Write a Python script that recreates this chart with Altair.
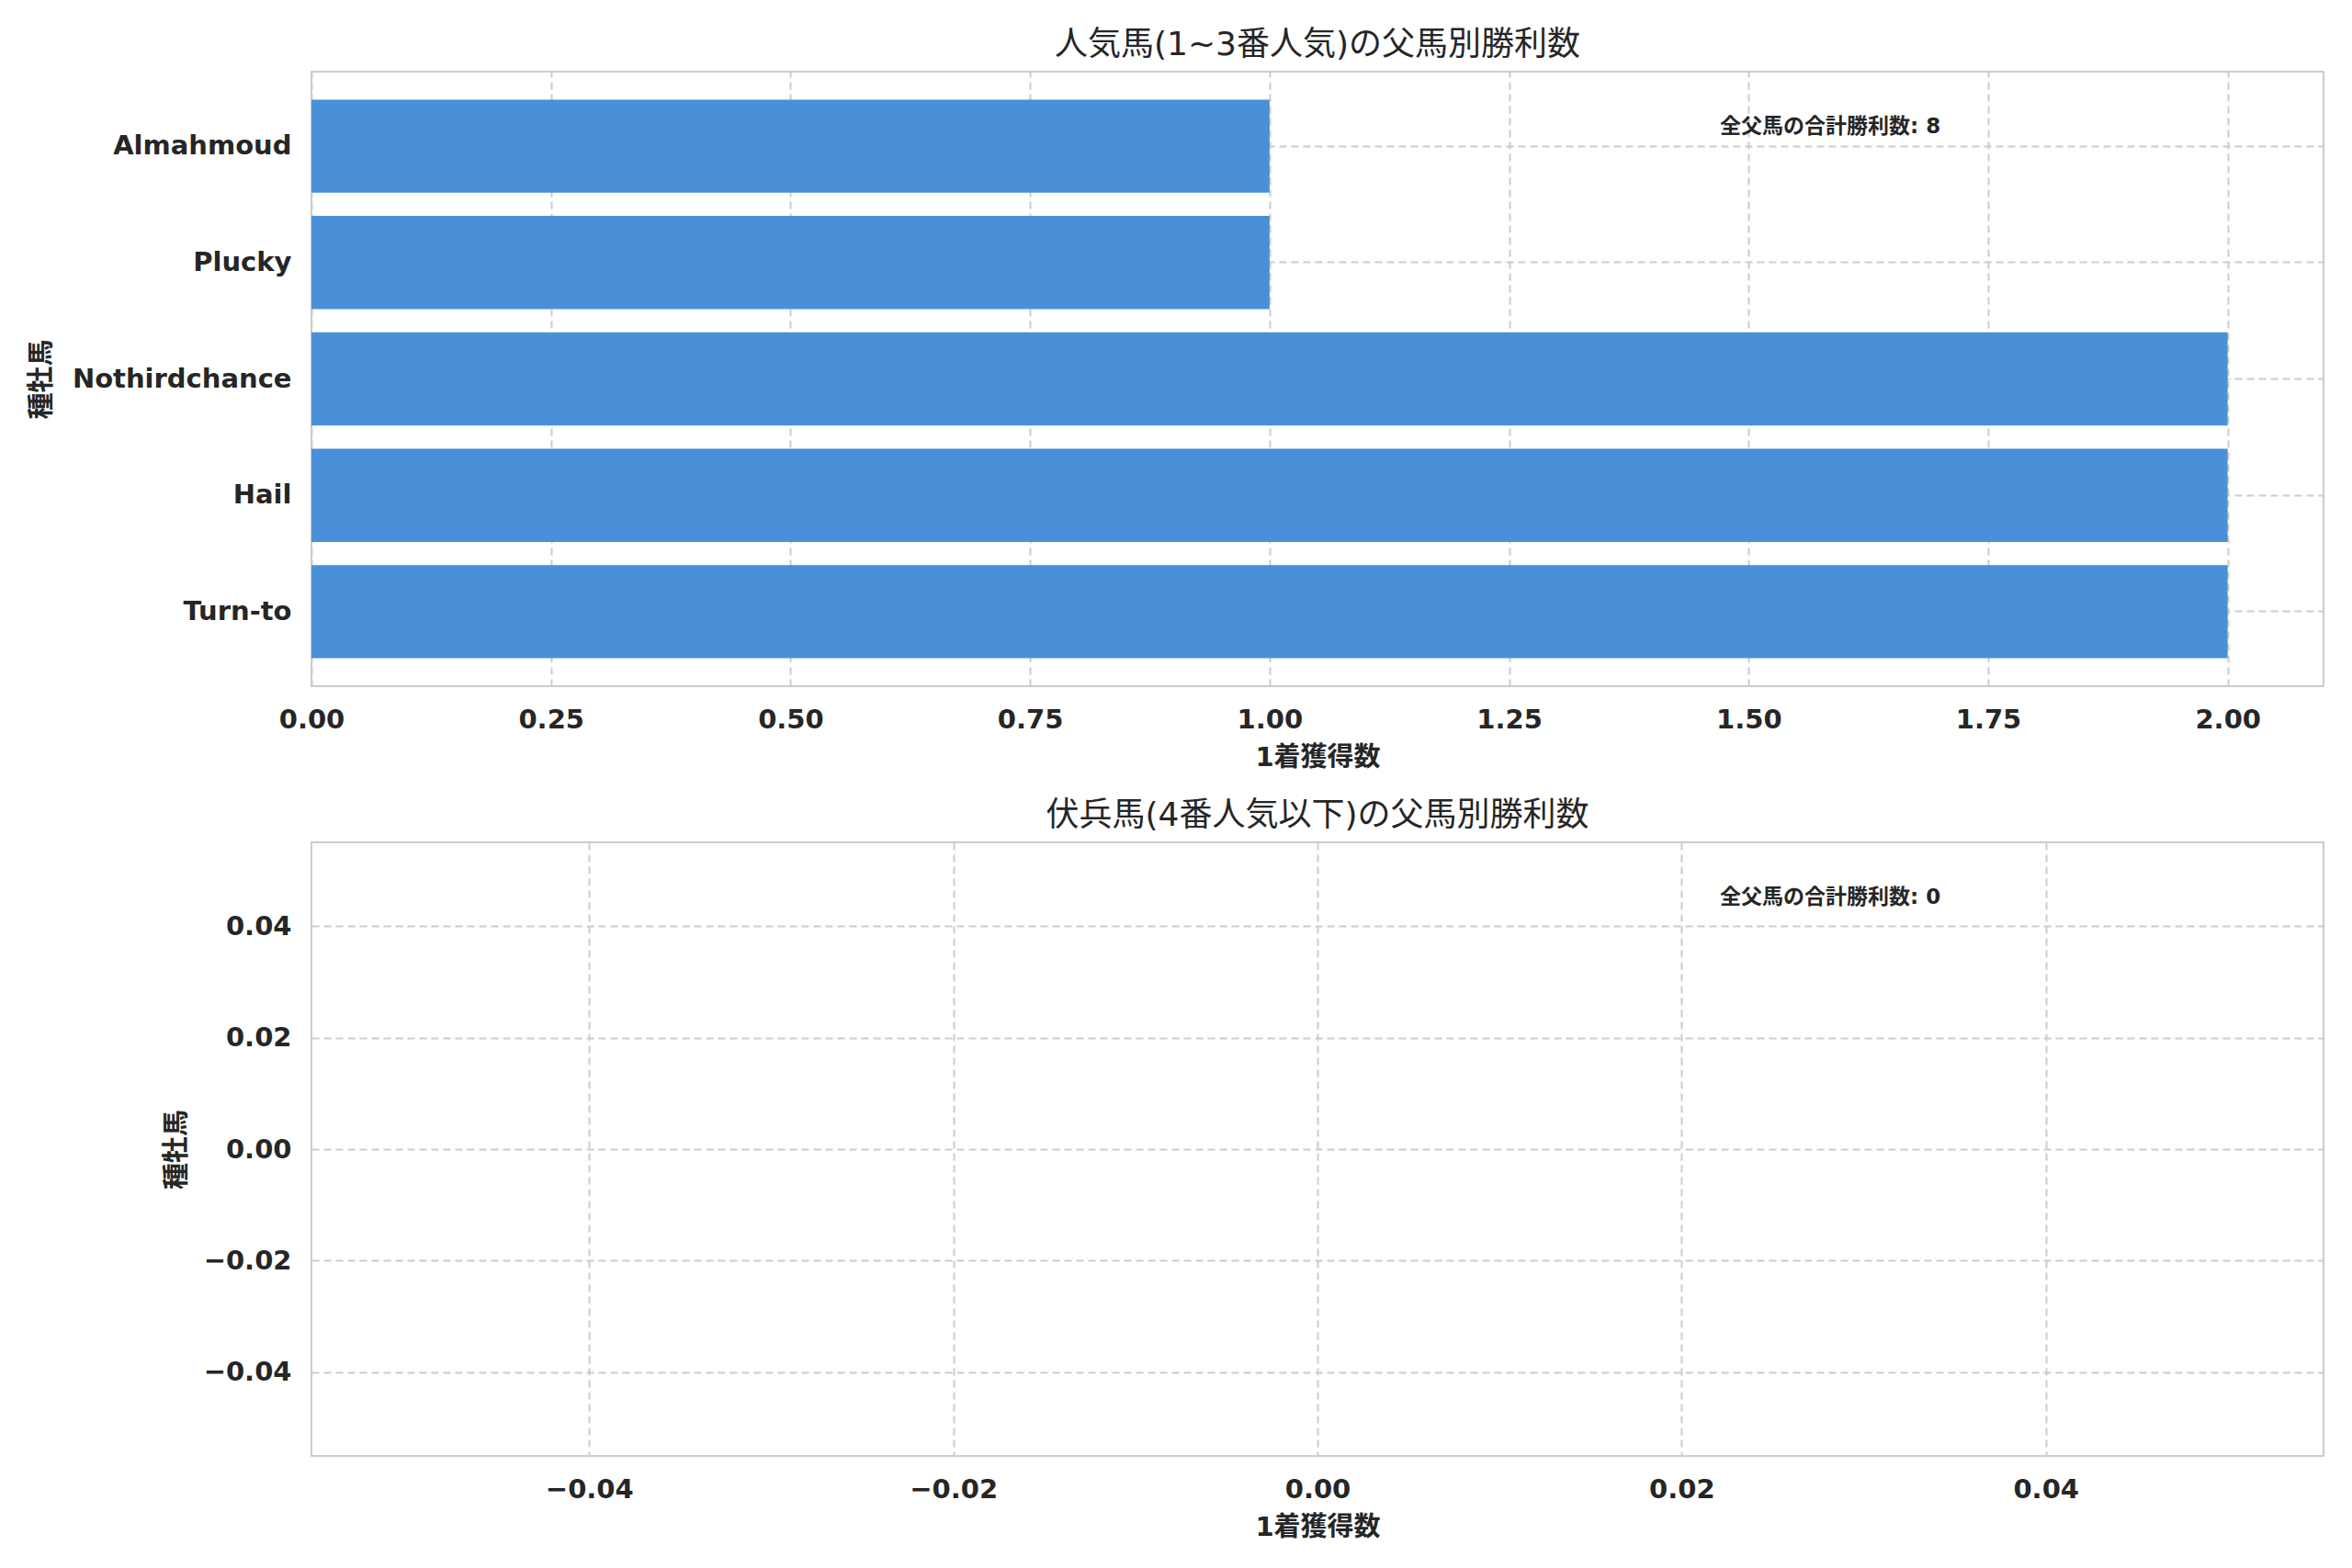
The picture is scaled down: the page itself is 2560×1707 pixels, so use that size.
import altair as alt
import pandas as pd

# ---- data ----
horses = ["Almahmoud", "Plucky", "Nothirdchance", "Hail", "Turn-to"]
wins_top = [1, 1, 2, 2, 2]
horses_bottom = []
wins_bottom = []

title_top = "人気馬(1~3番人気)の父馬別勝利数"
title_bottom = "伏兵馬(4番人気以下)の父馬別勝利数"
x_title = "1着獲得数"
y_title = "種牡馬"
note_label = "全父馬の合計勝利数"

x_ticks_top = [0.0, 0.25, 0.5, 0.75, 1.0, 1.25, 1.5, 1.75, 2.0]
ticks_bottom = [-0.04, -0.02, 0.0, 0.02, 0.04]

FONT = "'DejaVu Sans', 'Noto Sans CJK JP', sans-serif"
LFONT = "DejaVu Sans"
BAR = "#4a90d9"
TXT = "#262626"
W, H_TOP, H_BOT = 2190, 669, 668

top_df = pd.DataFrame({"horse": horses, "wins": wins_top})
top_note = pd.DataFrame({"t": [f"{note_label}: {sum(wins_top)}"]})
bot_df = pd.DataFrame({"wins": pd.Series(wins_bottom, dtype=float),
                       "pos": pd.Series([0.0] * len(horses_bottom), dtype=float)})
bot_note = pd.DataFrame({"t": [f"{note_label}: {int(sum(wins_bottom))}"]})

bars = alt.Chart(top_df).mark_bar(color=BAR).encode(
    x=alt.X("wins:Q", title=x_title,
            scale=alt.Scale(domain=[0, 2.1], nice=False, zero=False),
            axis=alt.Axis(values=x_ticks_top, format=".2f")),
    y=alt.Y("horse:N", title=y_title, sort=horses,
            scale=alt.Scale(paddingInner=0.2, paddingOuter=0.24),
            axis=alt.Axis(bandPosition=0.5, titleX=-279, titleY=H_TOP / 2,
                          titleAngle=270, titleBaseline="bottom",
                          titleAlign="center")),
)
note1 = alt.Chart(top_note).mark_text(
    align="left", baseline="middle", fontSize=23, fontWeight="bold",
    font=FONT, color=TXT
).encode(text="t:N", x=alt.value(0.7 * W), y=alt.value(60))

top = alt.layer(bars, note1).properties(
    width=W, height=H_TOP,
    title=alt.TitleParams(title_top, fontSize=36, fontWeight="normal",
                          font=FONT, color=TXT, offset=10),
)

empty = alt.Chart(bot_df).mark_bar(color=BAR).encode(
    x=alt.X("wins:Q", title=x_title,
            scale=alt.Scale(domain=[-0.055, 0.055], nice=False, zero=False),
            axis=alt.Axis(values=ticks_bottom, format=".2f")),
    y=alt.Y("pos:Q", title=y_title,
            scale=alt.Scale(domain=[-0.055, 0.055], nice=False, zero=False),
            axis=alt.Axis(values=ticks_bottom, format=".2f",
                          titleX=-132, titleY=H_BOT / 2,
                          titleAngle=270, titleBaseline="bottom",
                          titleAlign="center")),
)
note2 = alt.Chart(bot_note).mark_text(
    align="left", baseline="middle", fontSize=23, fontWeight="bold",
    font=FONT, color=TXT
).encode(text="t:N", x=alt.value(0.7 * W), y=alt.value(60))

bottom = alt.layer(empty, note2).properties(
    width=W, height=H_BOT,
    title=alt.TitleParams(title_bottom, fontSize=36, fontWeight="normal",
                          font=FONT, color=TXT, offset=10),
)

chart = alt.vconcat(top, bottom, spacing=29).properties(
    padding={"left": 22, "top": 22, "right": 20, "bottom": 10}
).configure_view(
    stroke="#cccccc", strokeWidth=2
).configure_axis(
    grid=True, gridColor="#cccccc", gridDash=[8, 5], gridWidth=2,
    domain=False, ticks=False, tickSize=0,
    labelFont=LFONT, labelFontSize=29, labelFontWeight="bold", labelColor=TXT,
    labelPadding=22, labelLimit=500, labelFlush=False, labelOverlap=False,
    titleFont=FONT, titleFontSize=29, titleFontWeight="bold", titleColor=TXT,
    titlePadding=12,
)

chart.save("out.html", embed_options={"renderer": "svg", "actions": False})
